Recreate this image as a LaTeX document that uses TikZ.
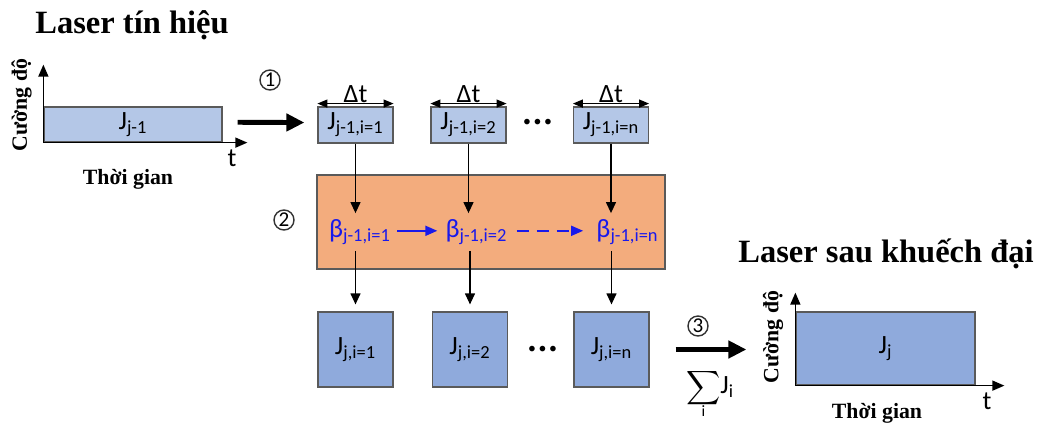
\documentclass[tikz,border=0pt]{standalone}
\usepackage{fontspec}
\setmainfont{Liberation Serif}
\newfontfamily\lblfont{Carlito}
\usetikzlibrary{arrows.meta}
\definecolor{pulselight}{RGB}{180,199,231}
\definecolor{pulsedark}{RGB}{143,170,220}
\definecolor{ampfill}{RGB}{243,172,125}
\definecolor{boxedge}{RGB}{90,90,90}
\definecolor{betablue}{RGB}{25,25,235}

\begin{document}
\begin{tikzpicture}[scale=0.2]
\tikzstyle{every node}+=[inner sep=0pt]
\tikzstyle{titletext}=[font=\bfseries\fontsize{18.5}{22}\selectfont]
\tikzstyle{axtext}=[font=\bfseries\fontsize{12.4}{14}\selectfont]
\tikzstyle{lbl}=[font=\lblfont\fontsize{15}{17}\selectfont]
\tikzstyle{dotlbl}=[font=\lblfont\fontsize{9}{9}\selectfont]
\tikzstyle{cellin}=[lbl, draw=boxedge, line width=0.7pt, fill=pulselight, minimum width=1.5cm, minimum height=0.72cm]
\tikzstyle{cellout}=[lbl, draw=boxedge, line width=0.7pt, fill=pulsedark, minimum width=1.5cm, minimum height=1.5cm]
\tikzstyle{betalbl}=[lbl, text=betablue]
\tikzstyle{stepnum}=[draw=black!80, circle, line width=0.8pt, minimum size=0.4cm, font=\lblfont\fontsize{12}{12}\selectfont]
\tikzstyle{axis}=[black, line width=0.85pt, -{Triangle[length=0.24cm,width=0.2cm]}]
\tikzstyle{flow}=[black, line width=0.7pt, -{Triangle[length=0.22cm,width=0.2cm]}]
\tikzstyle{betaflow}=[betablue, line width=1pt, -{Triangle[length=0.24cm,width=0.2cm]}]
\tikzstyle{dtarrow}=[black, line width=0.8pt, {Triangle[length=0.2cm,width=0.16cm]}-{Triangle[length=0.2cm,width=0.16cm]}]
\tikzstyle{bigarrow}=[black, line width=2.8pt, -{Triangle[length=0.36cm,width=0.34cm]}]
\useasboundingbox (0,0) rectangle (103.8,-42.3);

\node [titletext, anchor=base west] (sigtitle) at (3.5,-3.3) {Laser tín hiệu};
\node [titletext, anchor=base west] (amptitle) at (73.8,-26.2) {Laser sau khuếch đại};

\node [lbl, draw=boxedge, line width=0.7pt, fill=pulselight, minimum width=3.56cm, minimum height=0.7cm] (pin) at (13.3,-12.45) {J\textsubscript{j-1}};
\draw [axis] (pin.south west) -- ++(0,7.8);
\draw [axis] (pin.south west) -- ++(20.4,0);
\node [lbl] (tin) at (23.2,-15.8) {t};
\node [axtext] (timein) at (12.8,-17.9) {Thời gian};
\node [axtext, rotate=90] (powin) at (2.15,-10.5) {Cường độ};

\node [cellin] (top1) at (35.55,-12.5) {J\textsubscript{j-1,i=1}};
\node [cellin] (top2) at (46.85,-12.5) {J\textsubscript{j-1,i=2}};
\node [cellin] (top3) at (61.1,-12.5) {J\textsubscript{j-1,i=n}};
\node [dotlbl] (dotsin) at (53.75,-12.3) {\textbullet\,\textbullet\,\textbullet};
\draw [dtarrow] ([yshift=0.28cm]top1.north west) -- ([yshift=0.28cm]top1.north east) node [midway, above=0pt, lbl] (dt1) {Δt};
\draw [dtarrow] ([yshift=0.28cm]top2.north west) -- ([yshift=0.28cm]top2.north east) node [midway, above=0pt, lbl] (dt2) {Δt};
\draw [dtarrow] ([yshift=0.28cm]top3.north west) -- ([yshift=0.28cm]top3.north east) node [midway, above=0pt, lbl] (dt3) {Δt};

\draw [bigarrow, shorten <=0.3cm, shorten >=0.26cm] ([yshift=0.23cm]pin.east) -- ([yshift=0.24cm]top1.west);
\node [stepnum] (n1) at (27.0,-8.0) {1};

\node [draw=boxedge, line width=0.7pt, fill=ampfill, minimum width=6.96cm, minimum height=1.88cm] (amp) at (49.1,-22.2) {};
\node [stepnum] (n2) at (28.4,-22.0) {2};
\node [betalbl] (b1) at (36.0,-23.2) {β\textsubscript{j-1,i=1}};
\node [betalbl] (b2) at (47.65,-23.2) {β\textsubscript{j-1,i=2}};
\node [betalbl] (b3) at (62.75,-23.2) {β\textsubscript{j-1,i=n}};
\draw [betaflow, shorten <=0.12cm, shorten >=0.16cm] ([yshift=0.12cm]b1.east) -- ([yshift=0.12cm]b2.west);
\draw [betaflow, dash pattern=on 0.24cm off 0.16cm, shorten <=0.18cm, shorten >=0.26cm] ([yshift=0.12cm]b2.east) -- ([yshift=0.12cm]b3.west);

\node [cellout] (bot1) at (35.55,-34.95) {J\textsubscript{j,i=1}};
\node [cellout] (bot2) at (47.0,-34.95) {J\textsubscript{j,i=2}};
\node [cellout] (bot3) at (61.15,-34.95) {J\textsubscript{j,i=n}};
\node [dotlbl] (dotsout) at (54.25,-35.0) {\textbullet\,\textbullet\,\textbullet};

\draw [flow, shorten >=0.12cm] (top1.south) -- (top1.south |- b1.north);
\draw [flow, shorten >=0.12cm] (top2.south) -- (top2.south |- b2.north);
\draw [flow, shorten >=0.12cm] (top3.south) -- (top3.south |- b3.north);
\draw [flow, shorten <=0.12cm, shorten >=0.14cm] (bot1.north |- b1.south) -- (bot1.north);
\draw [flow, shorten <=0.12cm, shorten >=0.14cm] (bot2.north |- b2.south) -- (bot2.north);
\draw [flow, shorten <=0.12cm, shorten >=0.14cm] (bot3.north |- b3.south) -- (bot3.north);

\node [lbl, draw=boxedge, line width=0.7pt, fill=pulsedark, minimum width=3.58cm, minimum height=1.46cm] (pout) at (88.55,-34.85) {J\textsubscript{j}};
\draw [axis] (pout.south west) -- ++(0,9.3);
\draw [axis] (pout.south west) -- ++(20.9,0);
\node [lbl] (tout) at (98.7,-40.1) {t};
\node [axtext] (timeout) at (87.7,-41.3) {Thời gian};
\node [axtext, rotate=90] (powout) at (77.3,-33.7) {Cường độ};

\draw [bigarrow, shorten <=0.52cm, shorten >=0.98cm] (bot3.east) -- (bot3.east -| pout.west);
\node [stepnum] (n3) at (69.8,-32.6) {3};
\node (sumsym) at (70.4,-38.8) {\scalebox{1.35}{$\displaystyle\sum$}};
\node [font=\lblfont\fontsize{9}{9}\selectfont] (sumidx) at (70.35,-41.1) {i};
\node [lbl, anchor=west] (sumterm) at (72.0,-38.7) {J\textsubscript{i}};
\end{tikzpicture}
\end{document}
